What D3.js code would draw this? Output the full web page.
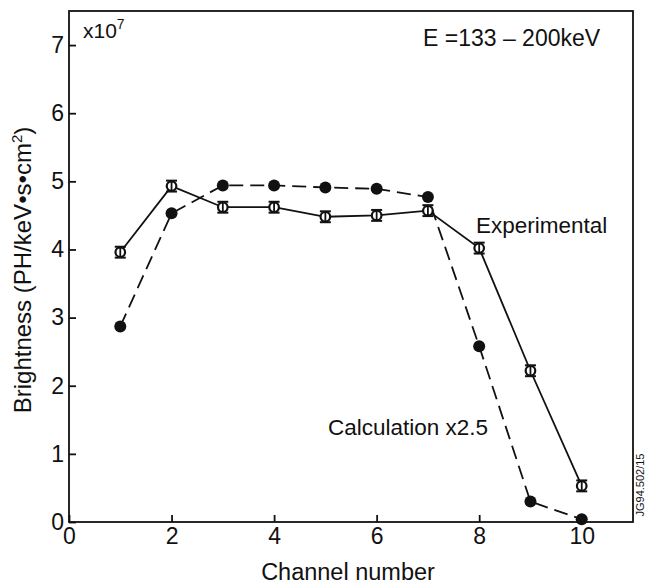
<!DOCTYPE html>
<html>
<head>
<meta charset="utf-8">
<script src="https://cdn.jsdelivr.net/npm/d3@7"></script>
<style>
  html, body { margin: 0; padding: 0; background: #fff; }
  svg text { font-family: "Liberation Sans", Arial, sans-serif; fill: #111; }
</style>
</head>
<body>
<svg id="chart" width="646" height="585"></svg>
<script>
const channels = [1, 2, 3, 4, 5, 6, 7, 8, 9, 10];
const experimental = [3.96, 4.93, 4.62, 4.62, 4.48, 4.50, 4.57, 4.02, 2.22, 0.53];
const calculation = [2.87, 4.53, 4.94, 4.94, 4.91, 4.89, 4.77, 2.58, 0.30, 0.04];
const expError = 0.08;
const xTicks = [0, 2, 4, 6, 8, 10];
const yTicks = [0, 1, 2, 3, 4, 5, 6, 7];

const svg = d3.select("#chart");
const L = 69, R = 633, T = 11, B = 522;
const x = d3.scaleLinear().domain([0, 11]).range([L, R]);
const y = d3.scaleLinear().domain([0, 7.5]).range([B, T]);

// frame
svg.append("rect").attr("x", L).attr("y", T).attr("width", R - L).attr("height", B - T)
  .attr("fill", "none").attr("stroke", "#111").attr("stroke-width", 1.8);

// axes (ticks inward)
const xAxis = svg.append("g").attr("transform", `translate(0,${B})`)
  .call(d3.axisTop(x).tickValues(xTicks).tickSize(7).tickFormat(d3.format("d")));
xAxis.select(".domain").remove();
xAxis.selectAll("line").attr("stroke", "#111").attr("stroke-width", 1.8);
xAxis.selectAll("text").attr("y", 6).attr("dy", "0.71em").style("font-size", "23px").attr("fill", "#111");

const yAxis = svg.append("g").attr("transform", `translate(${L},0)`)
  .call(d3.axisRight(y).tickValues(yTicks).tickSize(7).tickFormat(d3.format("d")));
yAxis.select(".domain").remove();
yAxis.selectAll("line").attr("stroke", "#111").attr("stroke-width", 1.8);
yAxis.selectAll("text").attr("x", -5).attr("text-anchor", "end").style("font-size", "23px").attr("fill", "#111");

// lines
const expData = channels.map((c, i) => ({c, v: experimental[i]}));
const calcData = channels.map((c, i) => ({c, v: calculation[i]}));
const line = d3.line().x(d => x(d.c)).y(d => y(d.v));

svg.append("path").datum(calcData).attr("d", line).attr("fill", "none")
  .attr("stroke", "#111").attr("stroke-width", 1.8).attr("stroke-dasharray", "14,7");
svg.append("path").datum(expData).attr("d", line).attr("fill", "none")
  .attr("stroke", "#111").attr("stroke-width", 1.8);

// calculation markers
svg.append("g").selectAll("circle").data(calcData).join("circle")
  .attr("cx", d => x(d.c)).attr("cy", d => y(d.v)).attr("r", 6).attr("fill", "#111");

// experimental markers with error bars
const eg = svg.append("g").selectAll("g").data(expData).join("g");
eg.append("circle").attr("cx", d => x(d.c)).attr("cy", d => y(d.v)).attr("r", 4.8)
  .attr("fill", "#fff").attr("stroke", "#111").attr("stroke-width", 2.2);
eg.append("line").attr("x1", d => x(d.c)).attr("x2", d => x(d.c))
  .attr("y1", d => y(d.v + expError)).attr("y2", d => y(d.v - expError))
  .attr("stroke", "#111").attr("stroke-width", 1.8);
eg.append("line").attr("x1", d => x(d.c) - 5.5).attr("x2", d => x(d.c) + 5.5)
  .attr("y1", d => y(d.v + expError)).attr("y2", d => y(d.v + expError))
  .attr("stroke", "#111").attr("stroke-width", 2);
eg.append("line").attr("x1", d => x(d.c) - 5.5).attr("x2", d => x(d.c) + 5.5)
  .attr("y1", d => y(d.v - expError)).attr("y2", d => y(d.v - expError))
  .attr("stroke", "#111").attr("stroke-width", 2);

// texts
const t1 = svg.append("text").attr("x", 83).attr("y", 38).style("font-size", "21px");
t1.append("tspan").text("x10");
t1.append("tspan").attr("dy", -9).style("font-size", "14px").text("7");

svg.append("text").attr("x", 423).attr("y", 46).style("font-size", "23px").text("E =133 \u2013 200keV");
svg.append("text").attr("x", 476).attr("y", 233).style("font-size", "22.5px").text("Experimental");
svg.append("text").attr("x", 328).attr("y", 435).style("font-size", "22.5px").text("Calculation x2.5");

svg.append("text").attr("x", 348).attr("y", 580).attr("text-anchor", "middle")
  .style("font-size", "23.5px").text("Channel number");

const yl = svg.append("text").attr("transform", "translate(31,270) rotate(-90)")
  .attr("text-anchor", "middle").style("font-size", "24px");
yl.append("tspan").text("Brightness (PH/keV\u2022s\u2022cm");
yl.append("tspan").attr("dy", -9).style("font-size", "15px").text("2");
yl.append("tspan").attr("dy", 9).text(")");

svg.append("text").attr("transform", "translate(644,485) rotate(-90)")
  .attr("text-anchor", "middle").style("font-size", "11px").text("JG94.502/15");
</script>
</body>
</html>
